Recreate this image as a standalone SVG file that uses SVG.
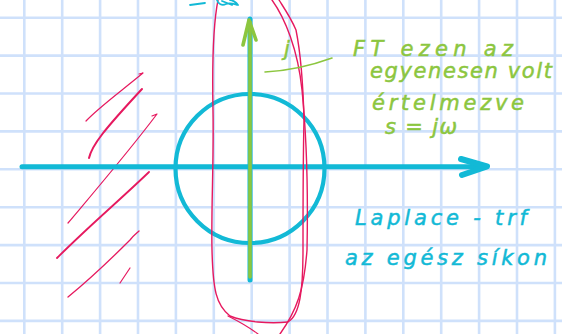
<svg xmlns="http://www.w3.org/2000/svg" width="562" height="334" viewBox="0 0 562 334">
<style>
.grid{stroke:#cfe1fb;stroke-width:2.6}
.cy{stroke:#12b9d6;fill:none;stroke-linecap:round;stroke-linejoin:round}
.gr{stroke:#8cc63f;fill:none;stroke-linecap:round;stroke-linejoin:round}
.rd{stroke:#e6195f;fill:none;stroke-linecap:round;stroke-linejoin:round}
.tg{fill:#8cc63f;stroke:#8cc63f;stroke-width:0.5;font-family:"DejaVu Sans",sans-serif;font-style:italic;font-size:21px}
.tc{fill:#12b9d6;stroke:#12b9d6;stroke-width:0.5;font-family:"DejaVu Sans",sans-serif;font-style:italic;font-size:21px}
</style>
<rect width="562" height="334" fill="#ffffff"/>
<g id="grid">
<path class="grid" d="M24.3 0V334M62.2 0V334M100.1 0V334M138 0V334M175.9 0V334M213.8 0V334M251.7 0V334M289.6 0V334M327.5 0V334M365.4 0V334M403.3 0V334M441.2 0V334M479.1 0V334M517 0V334M554.9 0V334"/>
<path class="grid" d="M0 17.7H562M0 55.6H562M0 93.5H562M0 131.4H562M0 169.3H562M0 207.2H562M0 245.1H562M0 283H562M0 320.9H562"/>
</g>
<g id="hatch">
<path class="rd" stroke-width="1.2" d="M86 121C98 108 120 92 143 73L139 74"/>
<path class="rd" stroke-width="2" d="M89 158C92 145 104 130 142 89"/>
<path class="rd" stroke-width="1.2" d="M68 223C100 185 130 150 157 114L152 116"/>
<path class="rd" stroke-width="1.8" d="M57 258C90 225 120 200 149 172"/>
<path class="rd" stroke-width="1.3" d="M68 297C95 275 115 255 130 240C134 235 137 233 139 231"/>
<path class="rd" stroke-width="1.2" d="M120 283L130 268"/>
</g>
<g id="circle">
<circle class="cy" cx="250" cy="168.5" r="74.5" stroke-width="4.2"/>
</g>
<g id="axes">
<path class="cy" stroke-width="5" d="M22 166.7H486"/>
<path class="cy" stroke-width="6" d="M461 159L487 166.5L462 175"/>
<path class="cy" stroke-width="5" d="M250 280V19"/>
<path class="gr" stroke-width="3.6" d="M250 277V22"/>
<path class="gr" stroke-width="3.6" d="M243 45L249 20L256 40"/>
</g>
<g id="loop">
<path class="rd" stroke-width="1.4" d="M218 0C214 20 212 60 213 110C214 160 211 210 212 250C213 290 216 305 230 316C245 322 270 324 288 322C300 315 303 290 303 250C303 210 303 160 304 120C303 80 300 50 296 30C291 18 284 8 279 0"/>
<path class="rd" stroke-width="1.4" d="M272 0C285 18 298 50 302 90C307 140 308 200 307 250C304 290 297 310 280 334"/>
<path class="rd" stroke-width="1.2" d="M228 316C240 322 250 328 258 334"/>
</g>
<g id="scribble">
<path class="cy" stroke-width="1.8" d="M190 5L205 3M217 0C218 4 222 6 226 4C230 2 234 4 238 5C236 2 232 0 230 0M222 1L232 5"/>
</g>
<g id="j-label">
<text class="tg" x="284" y="56">j</text>
<path class="gr" stroke-width="1.6" d="M265 72C285 71 310 66 332 58"/>
</g>
<g id="ft-text">
<text class="tg" x="353" y="56" textLength="160" lengthAdjust="spacing">FT ezen az</text>
<text class="tg" x="370" y="78" textLength="182" lengthAdjust="spacing">egyenesen volt</text>
<text class="tg" x="372" y="110" textLength="152" lengthAdjust="spacing">értelmezve</text>
<text class="tg" x="385" y="134" textLength="72" lengthAdjust="spacing">s = jω</text>
</g>
<g id="laplace-text">
<text class="tc" x="355" y="225" textLength="172" lengthAdjust="spacing">Laplace - trf</text>
<text class="tc" x="345" y="265" textLength="202" lengthAdjust="spacing">az egész síkon</text>
</g>
</svg>
